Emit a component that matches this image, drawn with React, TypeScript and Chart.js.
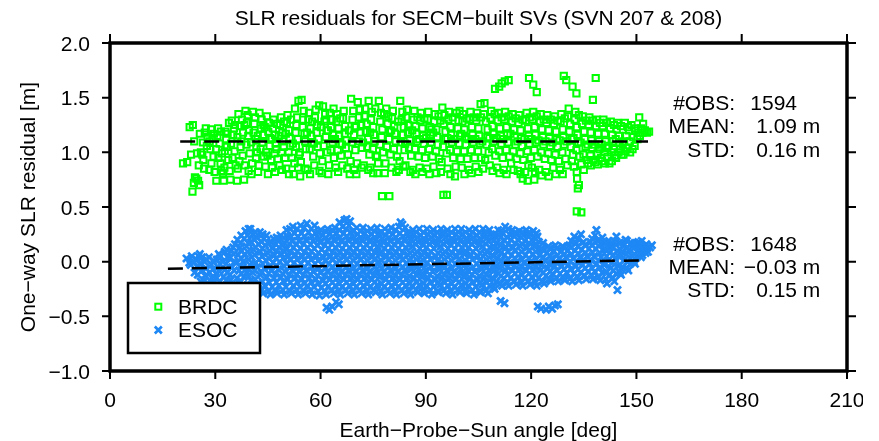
import React, { useEffect, useRef } from 'react';
import { Chart, registerables } from 'chart.js';

Chart.register(...registerables);

const chartTitle = 'SLR residuals for SECM\u2212built SVs (SVN 207 & 208)';
const xAxisTitle = 'Earth\u2212Probe\u2212Sun angle [deg]';
const yAxisTitle = 'One\u2212way SLR residual [m]';
const xTickValues = [0, 30, 60, 90, 120, 150, 180, 210];
const yTickValues = [-1, -0.5, 0, 0.5, 1, 1.5, 2];
const seriesNames = ['BRDC', 'ESOC'];
const statLabels = ['#OBS:', 'MEAN:', 'STD:'];
const brdcStats = ['1594', '1.09', '0.16'];
const esocStats = ['1648', '\u22120.03', '0.15'];
const statUnits = ['', ' m', ' m'];
const brdcMeanLine = [[20, 1.1], [153.3, 1.1]];
const esocMeanLine = [[16.5, -0.065], [151.5, 0.012]];

const brdcPointsA = [
  [20.8,0.9],[22.0,0.91],
  [22.7,1.23],[23.6,1.25],[23.1,0.98],[23.5,0.64],[23.9,0.72],[24.2,0.77],
  [24.8,0.99],[25.1,0.74],[25.4,0.7],[25.9,1.0],[25.6,1.17],[24.6,0.76],
  [26.3,0.98],[27.0,1.18],[27.3,1.22],[26.8,0.85],[27.6,1.06],[26.5,1.09],
  [28.3,0.84],[28.8,1.21],[29.2,1.13],[29.5,0.96],[28.6,1.03],[29.8,0.82],
  [30.3,0.74],[30.8,1.22],[31.2,1.08],[31.5,0.9],[31.9,0.99],[30.6,1.15],[31.7,0.83],
  [32.4,0.74],[32.9,1.19],[33.3,1.05],[33.7,0.93],[32.6,0.86],[33.9,1.27],[33.1,1.12],
  [34.3,0.75],[34.7,1.29],[35.1,1.16],[35.5,1.01],[35.8,0.88],[34.9,0.95],[35.3,1.22],
  [36.2,0.74],[36.6,1.35],[37.0,1.24],[37.4,1.1],[37.8,0.97],[36.4,0.85],[37.2,1.05],[37.6,1.3],
  [38.2,0.75],[38.6,1.38],[39.0,1.27],[39.4,1.15],[39.8,0.99],[38.4,0.88],[39.2,1.34],[39.6,1.2],
  [40.3,0.8],[40.7,1.37],[41.1,1.26],[41.5,1.12],[41.9,1.0],[40.5,0.9],[41.3,1.32],[41.7,1.05],
  [42.2,0.82],[42.6,1.36],[43.0,1.22],[43.4,1.09],[43.8,0.96],[42.4,0.88],[43.2,1.3],[43.6,1.16],
  [44.3,0.87],[44.7,1.33],[45.1,1.19],[45.5,1.06],[45.9,0.93],[44.5,1.0],[45.3,1.27],
  [46.2,0.86],[46.6,1.3],[47.0,1.16],[47.4,1.03],[47.8,0.94],[46.4,1.22],[47.2,1.08],
  [48.3,0.88],[48.7,1.32],[49.1,1.18],[49.5,1.05],[49.9,0.95],[48.5,1.25],[49.3,1.1],
  [50.2,0.85],[50.6,1.34],[51.0,1.2],[51.4,1.06],[51.8,0.95],[50.4,1.27],[51.2,1.13],
  [52.3,0.8],[52.7,1.4],[53.1,1.25],[53.5,1.12],[53.9,0.98],[52.5,0.9],[53.3,1.32],[53.7,1.47],[53.0,1.05],
  [54.2,0.78],[54.6,1.48],[55.0,1.3],[55.4,1.17],[55.8,1.03],[54.4,0.91],[55.2,1.38],[55.6,1.1],
  [56.3,0.84],[56.7,1.36],[57.1,1.22],[57.5,1.09],[57.9,0.96],[56.5,1.3],[57.3,1.15],
  [58.2,0.88],[58.6,1.39],[59.0,1.25],[59.4,1.12],[59.8,0.99],[58.4,1.32],[59.2,1.05],[59.6,1.43],
  [60.3,0.81],[60.7,1.42],[61.1,1.28],[61.5,1.14],[61.9,1.0],[60.5,0.92],[61.3,1.35],[61.7,1.2],
  [62.2,0.8],[62.6,1.36],[63.0,1.23],[63.4,1.09],[63.8,0.95],[62.4,0.88],[63.2,1.3],[63.6,1.16],
  [64.3,0.86],[64.7,1.35],[65.1,1.22],[65.5,1.08],[65.9,0.97],[64.5,1.28],[65.3,1.15],
  [66.2,0.88],[66.6,1.38],[67.0,1.24],[67.4,1.11],[67.8,0.98],[66.4,1.31],[67.2,1.04],
  [68.3,0.8],[68.7,1.49],[69.1,1.3],[69.5,1.16],[69.9,1.02],[68.5,0.92],[69.3,1.38],[69.7,1.23],
  [70.2,0.8],[70.6,1.46],[71.0,1.32],[71.4,1.18],[71.8,1.04],[70.4,0.9],[71.2,1.39],[71.6,1.25],
  [72.3,0.88],[72.7,1.4],[73.1,1.26],[73.5,1.12],[73.9,0.98],[72.5,1.33],[73.3,1.05],[73.7,1.47],
  [74.2,0.86],[74.6,1.37],[75.0,1.23],[75.4,1.1],[75.8,0.96],[74.4,1.3],[75.2,1.16],
  [76.2,0.81],[76.6,1.47],[77.0,1.28],[77.4,1.14],[77.8,1.0],[76.4,0.9],[77.2,1.36],[77.5,0.6],
  [78.3,0.81],[78.7,1.4],[79.1,1.26],[79.5,1.12],[79.9,0.98],[78.5,0.9],[79.3,1.33],[79.6,0.6],
  [80.2,0.86],[80.6,1.38],[81.0,1.24],[81.4,1.1],[81.8,0.96],[80.4,1.31],[81.2,1.17],
  [82.3,0.84],[82.7,1.47],[83.1,1.3],[83.5,1.16],[83.9,1.02],[82.5,0.92],[83.3,1.37],[83.7,1.23],
  [84.2,0.88],[84.6,1.39],[85.0,1.25],[85.4,1.11],[85.8,0.97],[84.4,1.32],[85.2,1.04],
  [86.3,0.84],[86.7,1.38],[87.1,1.24],[87.5,1.1],[87.9,0.96],[86.5,1.3],[87.3,1.17],
  [88.2,0.86],[88.6,1.36],[89.0,1.22],[89.4,1.08],[89.8,0.95],[88.4,1.29],[89.2,1.15],
  [90.3,0.85],[90.7,1.37],[91.1,1.23],[91.5,1.09],[91.9,0.96],[90.5,1.3],[91.3,1.16],
  [92.2,0.87],[92.6,1.35],[93.0,1.21],[93.4,1.07],[93.8,0.94],[92.4,1.28],[93.2,1.14],
  [94.3,0.82],[94.7,1.41],[95.1,1.26],[95.5,1.12],[95.9,0.99],[94.5,0.91],[95.3,1.34],[95.0,0.61],[96.0,0.61],
  [96.2,0.85],[96.6,1.37],[97.0,1.23],[97.4,1.09],[97.8,0.95],[96.4,1.3],[97.2,1.16],
  [98.3,0.78],[98.7,1.36],[99.1,1.22],[99.5,1.08],[99.9,0.94],[98.5,0.87],[99.3,1.29],[99.7,1.15],
  [100.2,0.86],[100.6,1.35],[101.0,1.21],[101.4,1.07],[101.8,0.94],[100.4,1.28],[101.2,1.14],
  [102.3,0.84],[102.7,1.37],[103.1,1.23],[103.5,1.09],[103.9,0.95],[102.5,1.3],[103.3,1.16],
  [104.2,0.87],[104.6,1.36],[105.0,1.22],[105.4,1.08],[105.8,0.95],[104.4,1.29],[105.2,1.15],[105.6,1.44],
  [106.3,0.85],[106.7,1.45],[107.1,1.28],[107.5,1.14],[107.9,1.0],[106.5,1.35],[107.3,1.07],
  [108.2,0.88],[108.6,1.38],[109.0,1.24],[109.4,1.1],[109.8,0.97],[108.4,1.31],[109.2,1.17],[109.7,1.58],
  [110.3,0.86],[110.7,1.36],[111.1,1.22],[111.5,1.08],[111.9,0.95],[110.5,1.29],[111.3,1.15],[110.9,1.6],[111.6,1.63],
  [112.2,0.84],[112.6,1.37],[113.0,1.23],[113.4,1.09],[113.8,0.96],[112.4,1.3],[113.2,1.16],[112.5,1.65],[113.6,1.66],
  [114.3,0.9],[114.7,1.35],[115.1,1.21],[115.5,1.07],[115.9,0.94],[114.5,1.28],[115.3,1.14],
  [116.2,0.83],[116.6,1.34],[117.0,1.2],[117.4,1.06],[117.8,0.93],[116.4,1.27],[117.2,1.13],[117.6,0.76],
  [118.3,0.82],[118.7,1.36],[119.1,1.22],[119.5,1.08],[119.9,0.95],[118.5,1.29],[119.3,1.15],[119.4,1.68],[119.0,0.74],
  [120.2,0.86],[120.6,1.37],[121.0,1.23],[121.4,1.09],[121.8,0.96],[120.4,1.3],[121.2,1.16],[120.6,1.62],[121.6,1.55],[120.9,0.75],
  [122.3,0.84],[122.7,1.35],[123.1,1.21],[123.5,1.07],[123.9,0.94],[122.5,1.28],[123.3,1.14],
  [124.2,0.82],[124.6,1.34],[125.0,1.2],[125.4,1.06],[125.8,0.93],[124.4,1.27],[125.2,1.13],
  [126.3,0.86],[126.7,1.33],[127.1,1.19],[127.5,1.05],[127.9,0.92],[126.5,1.26],[127.3,1.12],
  [128.2,0.84],[128.6,1.35],[129.0,1.21],[129.4,1.07],[129.8,0.94],[128.4,1.28],[129.2,1.14],[129.3,1.7],[130.0,1.66],
  [130.3,0.88],[130.7,1.4],[131.1,1.26],[131.5,1.12],[131.9,0.98],[130.5,1.33],[131.3,1.05],[131.8,1.6],
  [132.2,0.87],[132.6,1.37],[133.0,1.23],[133.4,1.09],[133.8,0.96],[132.4,1.3],[133.2,1.16],[132.9,1.54],[133.1,0.76],[133.6,0.7],[133.3,0.67],[133.0,0.46],[134.3,0.45],
  [134.3,0.89],[134.7,1.33],[135.1,1.19],[135.5,1.05],[135.9,0.93],[134.5,1.26],[135.3,1.12],
  [136.2,0.9],[136.6,1.32],[137.0,1.18],[137.4,1.04],[137.8,0.93],[136.4,1.25],[137.2,1.11],[137.6,1.48],[138.4,1.68],
  [138.3,0.91],[138.7,1.3],[139.1,1.17],[139.5,1.03],[139.9,0.95],[138.5,1.24],[139.3,1.1],
  [140.2,0.92],[140.6,1.3],[141.0,1.17],[141.4,1.04],[141.8,0.96],[140.4,1.24],[141.2,1.1],
  [142.3,0.9],[142.7,1.28],[143.1,1.16],[143.5,1.03],[143.9,0.97],[142.5,1.22],[143.3,1.1],
  [144.2,0.95],[144.6,1.27],[145.0,1.15],[145.4,1.03],[145.8,0.98],[144.4,1.21],[145.2,1.09],
  [146.3,0.98],[146.7,1.27],[147.1,1.15],[147.5,1.04],[147.9,1.2],[146.5,1.1],
  [148.2,1.0],[148.6,1.25],[149.1,1.14],[149.5,1.06],[149.8,1.2],
  [150.3,1.12],[150.8,1.32],[151.3,1.22],[151.7,1.18],
  [152.4,1.2],[153.0,1.18],[153.6,1.19],
];

const brdcPointsB = [
  [24.0,1.1],[25.3,0.88],[26.6,0.93],[27.8,1.14],
  [28.9,0.9],[29.6,1.17],[28.4,1.1],[30.9,0.95],[31.6,1.19],[30.2,1.03],
  [32.7,1.01],[33.5,1.17],[32.2,0.81],[34.5,1.08],[35.6,1.25],[34.1,0.83],
  [36.9,0.92],[37.9,1.18],[36.3,1.14],[38.9,1.07],[39.5,0.83],[38.3,1.25],
  [40.9,1.18],[41.6,0.95],[40.2,1.09],[42.9,1.03],[43.7,1.25],[42.1,1.15],
  [44.9,0.97],[45.6,1.13],[44.1,1.23],[45.0,0.8],[46.9,0.99],[47.6,1.26],[46.1,1.12],[47.0,0.82],
  [48.9,1.0],[49.6,1.28],[48.1,1.15],[49.0,0.84],[50.9,1.0],[51.6,1.3],[50.1,1.17],[51.0,0.8],
  [52.9,1.18],[53.6,0.86],[52.1,1.08],[54.9,1.23],[55.7,0.85],[54.1,1.0],
  [56.9,1.03],[57.6,1.28],[56.1,1.18],[57.0,0.8],[58.9,1.18],[59.7,0.83],[58.1,1.08],
  [60.9,1.06],[61.6,1.3],[60.1,1.23],[62.9,1.02],[63.7,1.4],[62.1,1.2],
  [64.9,1.02],[65.6,1.31],[64.1,1.12],[65.0,0.82],[66.9,1.17],[67.6,0.85],[66.1,1.07],
  [68.9,1.09],[69.6,0.84],[68.1,1.2],[70.9,1.1],[71.7,0.86],[70.1,1.24],
  [72.9,1.19],[73.6,0.84],[72.1,1.09],[74.9,1.03],[75.6,1.4],[74.1,1.18],[75.0,0.81],
  [76.9,1.07],[77.6,1.21],[76.1,0.97],[78.9,1.05],[79.7,1.19],[78.1,1.35],
  [80.9,1.03],[81.6,0.82],[80.1,1.2],[82.9,1.09],[83.6,0.87],[82.1,1.28],
  [84.9,1.18],[85.6,0.82],[84.1,1.08],[86.9,1.03],[87.6,1.32],[86.1,1.2],[87.0,0.8],
  [88.9,1.02],[89.6,1.31],[88.1,1.12],[89.0,0.82],[90.9,1.03],[91.6,1.21],[90.1,1.13],[91.0,0.8],
  [92.9,1.01],[93.6,1.33],[92.1,1.18],[93.0,0.81],[94.9,1.05],[95.6,1.19],[94.1,1.29],
  [96.9,1.02],[97.6,1.32],[96.1,1.13],[97.0,0.8],[98.9,1.01],[99.6,1.38],[98.1,1.12],
  [100.9,1.01],[101.6,1.31],[100.1,1.17],[101.0,0.8],[102.9,1.02],[103.6,1.32],[102.1,1.12],[103.0,0.81],
  [104.9,1.01],[105.7,1.32],[104.1,1.12],[105.0,0.82],[106.9,0.93],[107.6,1.21],[106.1,1.1],
  [108.9,1.03],[109.6,1.35],[108.1,1.13],[109.0,0.83],[110.9,1.01],[111.6,1.32],[110.1,1.13],[111.0,0.81],
  [112.9,1.02],[113.6,1.33],[112.1,1.12],[113.0,0.8],[114.9,1.01],[115.6,1.31],[114.1,1.17],[115.0,0.84],
  [116.9,0.99],[117.6,1.3],[116.1,1.1],[117.0,0.8],[118.9,1.01],[119.6,1.32],[118.1,1.12],[119.2,0.88],
  [120.9,1.02],[121.6,1.33],[120.1,1.12],[121.1,0.82],[122.9,1.0],[123.6,1.3],[122.1,1.11],[123.0,0.79],
  [124.9,0.99],[125.6,1.3],[124.1,1.1],[125.0,0.78],[126.9,0.98],[127.6,1.29],[126.1,1.09],[127.0,0.8],
  [128.9,1.0],[129.6,1.31],[128.1,1.11],[129.0,0.8],[130.9,1.19],[131.6,0.92],[130.1,1.1],
  [132.9,1.02],[133.6,1.34],[132.1,1.13],[133.0,0.82],[134.9,0.98],[135.6,1.29],[134.1,1.09],[135.0,0.84],
  [136.9,0.97],[137.6,1.29],[136.1,1.07],[137.0,0.88],[138.9,0.99],[139.6,1.27],[138.1,1.07],[139.0,0.89],
  [140.9,1.0],[141.6,1.27],[140.1,1.07],[141.0,0.9],[142.9,1.0],[143.6,1.25],[142.1,1.06],[143.0,0.92],
  [144.9,1.0],[145.6,1.24],[144.1,1.12],[146.9,1.01],[147.6,1.23],[146.1,1.07],
  [148.9,1.03],[149.6,1.22],[148.1,1.1],[150.5,1.18],[151.0,1.15],[151.9,1.26],
];

const esocPointsA = [
  [21.8,0.03],[22.6,-0.01],[23.3,0.05],
  [24.1,-0.1],[24.6,0.02],[25.2,0.05],[24.9,-0.05],
  [25.8,-0.18],[26.3,-0.08],[26.9,0.0],[26.2,0.04],[27.1,-0.13],
  [27.8,-0.2],[28.4,-0.1],[28.9,-0.03],[28.2,0.04],[29.0,-0.15],
  [29.7,-0.19],[30.2,-0.11],[30.8,-0.05],[30.4,0.02],[31.0,0.07],[30.1,-0.15],
  [31.8,-0.21],[32.3,-0.14],[32.9,-0.07],[32.1,0.0],[32.7,0.09],[33.1,-0.02],
  [33.7,-0.2],[34.2,-0.12],[34.8,-0.05],[34.1,0.03],[34.6,0.1],[35.1,0.13],[34.4,-0.17],
  [35.7,-0.23],[36.2,-0.15],[36.8,-0.08],[36.0,-0.01],[36.5,0.06],[37.0,0.13],[36.3,0.2],[36.9,-0.19],
  [37.6,-0.22],[38.1,-0.14],[38.7,-0.07],[37.9,0.0],[38.4,0.07],[38.9,0.14],[38.2,0.21],[38.6,0.28],[39.0,-0.1],
  [39.6,-0.25],[40.1,-0.17],[40.7,-0.1],[39.9,-0.03],[40.4,0.04],[40.9,0.11],[40.2,0.18],[40.6,0.25],[40.0,0.3],
  [41.7,-0.27],[42.2,-0.2],[42.8,-0.12],[41.9,-0.05],[42.5,0.02],[42.9,0.09],[42.3,0.16],[41.8,0.22],[42.7,0.27],
  [43.6,-0.29],[44.1,-0.22],[44.7,-0.14],[43.9,-0.06],[44.4,0.01],[44.9,0.08],[44.2,0.15],[43.8,0.21],[44.6,0.24],
  [45.7,-0.3],[46.2,-0.23],[46.8,-0.15],[45.9,-0.08],[46.5,-0.01],[46.9,0.06],[46.3,0.12],[45.8,0.18],[46.6,0.21],
  [47.6,-0.29],[48.1,-0.22],[48.7,-0.14],[47.9,-0.07],[48.4,0.0],[48.9,0.07],[48.2,0.13],[47.8,0.19],[48.6,0.24],
  [49.6,-0.3],[50.1,-0.23],[50.7,-0.16],[49.9,-0.09],[50.4,-0.02],[50.9,0.05],[50.2,0.11],[49.8,0.17],[50.6,0.23],[50.3,0.29],
  [51.7,-0.29],[52.2,-0.22],[52.8,-0.15],[51.9,-0.08],[52.5,-0.01],[52.9,0.06],[52.3,0.13],[51.8,0.19],[52.6,0.26],[52.1,0.32],
  [53.6,-0.3],[54.1,-0.23],[54.7,-0.16],[53.9,-0.09],[54.4,-0.02],[54.9,0.05],[54.2,0.12],[53.8,0.19],[54.6,0.26],[54.3,0.33],
  [55.7,-0.29],[56.2,-0.22],[56.8,-0.15],[55.9,-0.08],[56.5,-0.01],[56.9,0.06],[56.3,0.13],[55.8,0.2],[56.6,0.27],[56.1,0.35],
  [57.6,-0.3],[58.1,-0.23],[58.7,-0.16],[57.9,-0.09],[58.4,-0.02],[58.9,0.05],[58.2,0.12],[57.8,0.19],[58.6,0.26],[58.3,0.33],
  [59.7,-0.31],[60.2,-0.24],[60.8,-0.17],[59.9,-0.1],[60.5,-0.03],[60.9,0.04],[60.3,0.11],[59.8,0.18],[60.6,0.24],[60.1,0.29],
  [61.6,-0.3],[62.1,-0.23],[62.7,-0.16],[61.9,-0.09],[62.4,-0.02],[62.9,0.05],[62.2,0.12],[61.8,0.19],[62.6,0.25],[62.0,0.3],[61.7,-0.42],[62.5,-0.44],[63.3,-0.41],
  [63.7,-0.29],[64.2,-0.22],[64.8,-0.15],[63.9,-0.08],[64.5,-0.01],[64.9,0.06],[64.3,0.13],[63.8,0.2],[64.6,0.26],[64.1,0.31],[64.4,-0.37],[65.2,-0.39],
  [65.6,-0.3],[66.1,-0.23],[66.7,-0.16],[65.9,-0.09],[66.4,-0.02],[66.9,0.05],[66.2,0.12],[65.8,0.19],[66.6,0.26],[66.3,0.32],[66.8,0.38],
  [67.7,-0.29],[68.2,-0.22],[68.8,-0.15],[67.9,-0.08],[68.5,-0.01],[68.9,0.06],[68.3,0.13],[67.8,0.2],[68.6,0.27],[68.1,0.33],[68.4,0.37],
  [69.6,-0.3],[70.1,-0.23],[70.7,-0.16],[69.9,-0.09],[70.4,-0.02],[70.9,0.05],[70.2,0.12],[69.8,0.19],[70.6,0.25],[70.3,0.31],
  [71.7,-0.29],[72.2,-0.22],[72.8,-0.15],[71.9,-0.08],[72.5,-0.01],[72.9,0.06],[72.3,0.13],[71.8,0.2],[72.6,0.26],[72.1,0.31],
  [73.6,-0.3],[74.1,-0.23],[74.7,-0.16],[73.9,-0.09],[74.4,-0.02],[74.9,0.05],[74.2,0.12],[73.8,0.19],[74.6,0.25],[74.3,0.3],
  [75.7,-0.28],[76.2,-0.21],[76.8,-0.14],[75.9,-0.07],[76.5,0.0],[76.9,0.07],[76.3,0.14],[75.8,0.2],[76.6,0.26],[76.1,0.31],
  [77.6,-0.3],[78.1,-0.23],[78.7,-0.16],[77.9,-0.09],[78.4,-0.02],[78.9,0.05],[78.2,0.12],[77.8,0.18],[78.6,0.24],[78.3,0.3],
  [79.7,-0.29],[80.2,-0.22],[80.8,-0.15],[79.9,-0.08],[80.5,-0.01],[80.9,0.06],[80.3,0.13],[79.8,0.19],[80.6,0.25],[80.1,0.31],
  [81.6,-0.3],[82.1,-0.23],[82.7,-0.16],[81.9,-0.09],[82.4,-0.02],[82.9,0.05],[82.2,0.12],[81.8,0.19],[82.6,0.26],[82.3,0.32],[82.8,0.36],
  [83.7,-0.29],[84.2,-0.22],[84.8,-0.15],[83.9,-0.08],[84.5,-0.01],[84.9,0.06],[84.3,0.13],[83.8,0.2],[84.6,0.26],[84.1,0.31],
  [85.6,-0.3],[86.1,-0.22],[86.7,-0.15],[85.9,-0.07],[86.4,0.0],[86.9,0.07],[86.2,0.14],[85.8,0.2],[86.6,0.25],[86.3,0.29],
  [87.7,-0.28],[88.2,-0.21],[88.8,-0.14],[87.9,-0.07],[88.5,0.0],[88.9,0.06],[88.3,0.12],[87.8,0.18],[88.6,0.24],[88.1,0.3],
  [89.6,-0.29],[90.1,-0.22],[90.7,-0.15],[89.9,-0.08],[90.4,-0.01],[90.9,0.06],[90.2,0.13],[89.8,0.19],[90.6,0.25],[90.3,0.3],
  [91.7,-0.3],[92.2,-0.23],[92.8,-0.16],[91.9,-0.09],[92.5,-0.02],[92.9,0.05],[92.3,0.12],[91.8,0.18],[92.6,0.24],[92.1,0.29],
  [93.6,-0.28],[94.1,-0.21],[94.7,-0.14],[93.9,-0.07],[94.4,0.0],[94.9,0.07],[94.2,0.14],[93.8,0.2],[94.6,0.26],[94.3,0.3],
  [95.7,-0.29],[96.2,-0.22],[96.8,-0.15],[95.9,-0.08],[96.5,-0.01],[96.9,0.06],[96.3,0.12],[95.8,0.18],[96.6,0.24],[96.1,0.29],
  [97.6,-0.3],[98.1,-0.23],[98.7,-0.16],[97.9,-0.09],[98.4,-0.02],[98.9,0.05],[98.2,0.12],[97.8,0.19],[98.6,0.25],[98.3,0.3],
  [99.7,-0.28],[100.2,-0.21],[100.8,-0.14],[99.9,-0.07],[100.5,0.0],[100.9,0.07],[100.3,0.13],[99.8,0.19],[100.6,0.25],[100.1,0.3],
  [101.6,-0.29],[102.1,-0.22],[102.7,-0.15],[101.9,-0.08],[102.4,-0.01],[102.9,0.06],[102.2,0.13],[101.8,0.19],[102.6,0.24],[102.3,0.29],
  [103.7,-0.3],[104.2,-0.23],[104.8,-0.16],[103.9,-0.09],[104.5,-0.02],[104.9,0.05],[104.3,0.12],[103.8,0.18],[104.6,0.24],[104.1,0.3],
  [105.6,-0.28],[106.1,-0.21],[106.7,-0.14],[105.9,-0.07],[106.4,0.0],[106.9,0.07],[106.2,0.14],[105.8,0.2],[106.6,0.26],[106.3,0.3],
  [107.7,-0.29],[108.2,-0.22],[108.8,-0.15],[107.9,-0.08],[108.5,-0.01],[108.9,0.06],[108.3,0.13],[107.8,0.19],[108.6,0.25],[108.1,0.29],
  [109.6,-0.25],[110.1,-0.18],[110.7,-0.11],[109.9,-0.04],[110.4,0.03],[110.9,0.1],[110.2,0.17],[109.8,0.23],[110.6,0.29],[111.3,-0.36],
  [111.7,-0.22],[112.2,-0.15],[112.8,-0.08],[111.9,-0.01],[112.5,0.06],[112.9,0.13],[112.3,0.2],[111.8,0.26],[112.6,0.32],[112.4,-0.38],
  [113.6,-0.22],[114.1,-0.15],[114.7,-0.08],[113.9,-0.01],[114.4,0.06],[114.9,0.13],[114.2,0.2],[113.8,0.25],[114.6,0.29],
  [115.7,-0.21],[116.2,-0.14],[116.8,-0.07],[115.9,0.0],[116.5,0.07],[116.9,0.14],[116.3,0.2],[115.8,0.25],[116.6,0.28],
  [117.6,-0.22],[118.1,-0.15],[118.7,-0.08],[117.9,-0.01],[118.4,0.06],[118.9,0.13],[118.2,0.19],[117.8,0.24],[118.6,0.29],
  [119.7,-0.21],[120.2,-0.14],[120.8,-0.07],[119.9,0.0],[120.5,0.07],[120.9,0.14],[120.3,0.2],[119.8,0.25],[120.6,0.28],
  [121.6,-0.22],[122.1,-0.15],[122.7,-0.08],[121.9,-0.01],[122.4,0.06],[122.9,0.12],[122.2,0.18],[121.8,0.23],[121.9,-0.41],[122.8,-0.43],
  [123.7,-0.2],[124.2,-0.13],[124.8,-0.06],[123.9,0.01],[124.5,0.08],[124.9,0.14],[124.3,-0.44],[125.0,-0.41],
  [125.6,-0.18],[126.1,-0.11],[126.7,-0.04],[125.9,0.03],[126.4,0.1],[126.9,0.15],[126.0,-0.43],[126.8,-0.4],
  [127.7,-0.18],[128.2,-0.11],[128.8,-0.04],[127.9,0.03],[128.5,0.09],[128.9,0.14],[127.6,-0.39],
  [129.6,-0.17],[130.1,-0.1],[130.7,-0.03],[129.9,0.04],[130.4,0.1],[130.9,0.15],
  [131.7,-0.18],[132.2,-0.11],[132.8,-0.04],[131.9,0.03],[132.5,0.1],[132.9,0.17],[132.3,0.23],
  [133.6,-0.17],[134.1,-0.1],[134.7,-0.03],[133.9,0.04],[134.4,0.11],[134.9,0.18],[134.2,0.25],
  [135.7,-0.16],[136.2,-0.09],[136.8,-0.02],[135.9,0.05],[136.5,0.12],[136.9,0.18],
  [137.6,-0.16],[138.1,-0.09],[138.7,-0.02],[137.9,0.05],[138.4,0.12],[138.9,0.19],[138.2,0.24],[138.6,0.29],
  [139.7,-0.17],[140.2,-0.1],[140.8,-0.03],[139.9,0.04],[140.5,0.11],[140.9,0.17],[140.3,0.22],
  [141.6,-0.2],[142.1,-0.13],[142.7,-0.06],[141.9,0.01],[142.4,0.08],[142.9,0.14],[142.2,0.19],
  [143.7,-0.18],[144.2,-0.11],[144.8,-0.04],[143.9,0.03],[144.5,0.1],[144.9,0.17],[144.3,0.23],[144.6,-0.26],
  [145.6,-0.12],[146.1,-0.05],[146.7,0.02],[145.9,0.09],[146.4,0.15],[146.9,0.2],
  [147.7,-0.08],[148.2,-0.02],[148.8,0.05],[147.9,0.11],[148.5,0.17],
  [149.6,-0.02],[150.1,0.04],[150.7,0.1],[149.9,0.15],[150.5,0.18],
  [151.7,0.06],[152.2,0.11],[152.8,0.16],[151.9,0.14],
  [153.3,0.09],[153.9,0.13],[154.4,0.15],
];

const esocPointsB = [
  [23.0,-0.03],[23.8,0.0],[25.5,-0.02],[25.0,-0.12],[25.6,0.07],
  [27.4,-0.06],[27.0,-0.17],[27.5,0.02],[29.3,-0.07],[29.4,0.01],[29.1,-0.19],
  [31.3,-0.02],[31.4,-0.18],[31.2,-0.09],[31.5,0.05],[33.3,-0.17],[33.4,-0.1],[33.5,0.04],[33.2,0.11],
  [35.3,-0.21],[35.4,-0.08],[35.5,0.0],[35.2,0.07],[35.6,0.16],
  [37.3,-0.18],[37.4,-0.11],[37.2,-0.04],[37.5,0.03],[37.3,0.1],[37.4,0.24],[37.2,0.17],
  [39.3,-0.21],[39.4,-0.13],[39.2,-0.06],[39.5,0.02],[39.3,0.09],[39.4,0.17],[39.2,0.24],[39.5,0.3],
  [41.3,-0.24],[41.4,-0.16],[41.2,-0.08],[41.5,-0.01],[41.3,0.06],[41.4,0.13],[41.2,0.2],[41.5,0.27],
  [43.3,-0.26],[43.4,-0.18],[43.2,-0.1],[43.5,-0.02],[43.3,0.05],[43.4,0.12],[43.2,0.18],[43.5,0.25],
  [45.3,-0.27],[45.4,-0.19],[45.2,-0.11],[45.5,-0.04],[45.3,0.03],[45.4,0.1],[45.2,0.17],
  [47.3,-0.27],[47.4,-0.19],[47.2,-0.11],[47.5,-0.04],[47.3,0.03],[47.4,0.1],[47.2,0.16],[47.5,0.22],
  [49.3,-0.26],[49.4,-0.18],[49.2,-0.11],[49.5,-0.04],[49.3,0.03],[49.4,0.1],[49.2,0.16],[49.5,0.22],
  [51.3,-0.27],[51.4,-0.19],[51.2,-0.12],[51.5,-0.05],[51.3,0.02],[51.4,0.09],[51.2,0.16],[51.5,0.23],[51.3,0.3],
  [53.3,-0.26],[53.4,-0.19],[53.2,-0.12],[53.5,-0.05],[53.3,0.02],[53.4,0.09],[53.2,0.16],[53.5,0.23],[53.3,0.3],
  [55.3,-0.27],[55.4,-0.2],[55.2,-0.12],[55.5,-0.05],[55.3,0.02],[55.4,0.09],[55.2,0.16],[55.5,0.23],[55.3,0.31],
  [57.3,-0.26],[57.4,-0.19],[57.2,-0.12],[57.5,-0.05],[57.3,0.02],[57.4,0.09],[57.2,0.16],[57.5,0.23],[57.3,0.3],
  [59.3,-0.27],[59.4,-0.2],[59.2,-0.13],[59.5,-0.06],[59.3,0.01],[59.4,0.08],[59.2,0.15],[59.5,0.21],[59.3,0.27],
  [61.3,-0.27],[61.4,-0.2],[61.2,-0.13],[61.5,-0.06],[61.3,0.01],[61.4,0.08],[61.2,0.15],[61.5,0.22],[61.3,0.28],
  [63.3,-0.26],[63.4,-0.19],[63.2,-0.12],[63.5,-0.05],[63.3,0.02],[63.4,0.09],[63.2,0.16],[63.5,0.23],[63.3,0.29],
  [65.3,-0.27],[65.4,-0.2],[65.2,-0.13],[65.5,-0.06],[65.3,0.01],[65.4,0.08],[65.2,0.15],[65.5,0.22],[65.3,0.29],[65.4,0.36],
  [67.3,-0.26],[67.4,-0.19],[67.2,-0.12],[67.5,-0.05],[67.3,0.02],[67.4,0.09],[67.2,0.16],[67.5,0.23],[67.3,0.3],[67.4,0.39],
  [69.3,-0.27],[69.4,-0.2],[69.2,-0.13],[69.5,-0.06],[69.3,0.01],[69.4,0.08],[69.2,0.15],[69.5,0.22],[69.3,0.28],
  [71.3,-0.26],[71.4,-0.19],[71.2,-0.12],[71.5,-0.05],[71.3,0.02],[71.4,0.09],[71.2,0.16],[71.5,0.22],[71.3,0.28],
  [73.3,-0.27],[73.4,-0.2],[73.2,-0.13],[73.5,-0.06],[73.3,0.01],[73.4,0.08],[73.2,0.15],[73.5,0.22],[73.3,0.28],
  [75.3,-0.26],[75.4,-0.19],[75.2,-0.12],[75.5,-0.05],[75.3,0.02],[75.4,0.09],[75.2,0.16],[75.5,0.22],[75.3,0.28],
  [77.3,-0.27],[77.4,-0.2],[77.2,-0.13],[77.5,-0.06],[77.3,0.01],[77.4,0.08],[77.2,0.15],[77.5,0.21],[77.3,0.27],
  [79.3,-0.26],[79.4,-0.19],[79.2,-0.12],[79.5,-0.05],[79.3,0.02],[79.4,0.09],[79.2,0.16],[79.5,0.22],[79.3,0.28],
  [81.3,-0.27],[81.4,-0.2],[81.2,-0.13],[81.5,-0.06],[81.3,0.01],[81.4,0.08],[81.2,0.15],[81.5,0.22],[81.3,0.29],
  [83.3,-0.26],[83.4,-0.19],[83.2,-0.12],[83.5,-0.05],[83.3,0.02],[83.4,0.09],[83.2,0.16],[83.5,0.23],[83.3,0.34],
  [85.3,-0.27],[85.4,-0.2],[85.2,-0.13],[85.5,-0.06],[85.3,0.01],[85.4,0.08],[85.2,0.15],[85.5,0.22],[85.3,0.27],
  [87.3,-0.26],[87.4,-0.19],[87.2,-0.12],[87.5,-0.05],[87.3,0.02],[87.4,0.09],[87.2,0.16],[87.5,0.22],[87.3,0.27],
  [89.3,-0.27],[89.4,-0.2],[89.2,-0.13],[89.5,-0.06],[89.3,0.01],[89.4,0.08],[89.2,0.15],[89.5,0.21],[89.3,0.27],
  [91.3,-0.26],[91.4,-0.19],[91.2,-0.12],[91.5,-0.05],[91.3,0.02],[91.4,0.09],[91.2,0.16],[91.5,0.22],[91.3,0.27],
  [93.3,-0.27],[93.4,-0.2],[93.2,-0.13],[93.5,-0.06],[93.3,0.01],[93.4,0.08],[93.2,0.15],[93.5,0.21],[93.3,0.27],
  [95.3,-0.26],[95.4,-0.19],[95.2,-0.12],[95.5,-0.05],[95.3,0.02],[95.4,0.09],[95.2,0.16],[95.5,0.22],[95.3,0.27],
  [97.3,-0.27],[97.4,-0.2],[97.2,-0.13],[97.5,-0.06],[97.3,0.01],[97.4,0.08],[97.2,0.15],[97.5,0.21],[97.3,0.27],
  [99.3,-0.26],[99.4,-0.19],[99.2,-0.12],[99.5,-0.05],[99.3,0.02],[99.4,0.09],[99.2,0.16],[99.5,0.22],[99.3,0.27],
  [101.3,-0.27],[101.4,-0.2],[101.2,-0.13],[101.5,-0.06],[101.3,0.01],[101.4,0.08],[101.2,0.15],[101.5,0.21],[101.3,0.27],
  [103.3,-0.26],[103.4,-0.19],[103.2,-0.12],[103.5,-0.05],[103.3,0.02],[103.4,0.09],[103.2,0.16],[103.5,0.22],[103.3,0.27],
  [105.3,-0.27],[105.4,-0.2],[105.2,-0.13],[105.5,-0.06],[105.3,0.01],[105.4,0.08],[105.2,0.15],[105.5,0.21],[105.3,0.27],
  [107.3,-0.26],[107.4,-0.19],[107.2,-0.12],[107.5,-0.05],[107.3,0.02],[107.4,0.09],[107.2,0.16],[107.5,0.22],[107.3,0.27],
  [109.3,-0.23],[109.4,-0.16],[109.2,-0.09],[109.5,-0.02],[109.3,0.05],[109.4,0.12],[109.2,0.19],[109.5,0.25],
  [111.3,-0.2],[111.4,-0.13],[111.2,-0.06],[111.5,0.01],[111.3,0.08],[111.4,0.15],[111.2,0.22],[111.5,0.28],
  [113.3,-0.19],[113.4,-0.12],[113.2,-0.05],[113.5,0.02],[113.3,0.09],[113.4,0.16],[113.2,0.22],[113.5,0.3],
  [115.3,-0.18],[115.4,-0.11],[115.2,-0.04],[115.5,0.03],[115.3,0.1],[115.4,0.17],[115.2,0.23],[115.5,0.27],
  [117.3,-0.19],[117.4,-0.12],[117.2,-0.05],[117.5,0.02],[117.3,0.09],[117.4,0.16],[117.2,0.22],[117.5,0.27],
  [119.3,-0.18],[119.4,-0.11],[119.2,-0.04],[119.5,0.03],[119.3,0.1],[119.4,0.17],[119.2,0.23],[119.5,0.27],
  [121.3,-0.19],[121.4,-0.12],[121.2,-0.05],[121.5,0.02],[121.3,0.09],[121.4,0.15],[121.2,0.21],[121.5,0.26],
  [123.3,-0.18],[123.4,-0.1],[123.2,-0.03],[123.5,0.04],[123.3,0.11],[123.4,0.17],
  [125.3,-0.16],[125.4,-0.09],[125.2,-0.02],[125.5,0.05],[125.3,0.12],
  [127.3,-0.15],[127.4,-0.08],[127.2,-0.01],[127.5,0.06],[127.3,0.12],
  [129.3,-0.15],[129.4,-0.07],[129.2,0.0],[129.5,0.07],[129.3,0.13],
  [131.3,-0.15],[131.4,-0.07],[131.2,0.0],[131.5,0.07],[131.3,0.13],[131.4,0.19],
  [133.3,-0.14],[133.4,-0.07],[133.2,0.0],[133.5,0.07],[133.3,0.14],[133.4,0.21],
  [135.3,-0.13],[135.4,-0.06],[135.2,0.01],[135.5,0.08],[135.3,0.15],
  [137.3,-0.13],[137.4,-0.06],[137.2,0.01],[137.5,0.08],[137.3,0.15],[137.4,0.21],
  [139.3,-0.14],[139.4,-0.06],[139.2,0.01],[139.5,0.08],[139.3,0.14],[139.4,0.2],
  [141.3,-0.16],[141.4,-0.09],[141.2,-0.02],[141.5,0.05],[141.3,0.11],[141.4,0.17],
  [143.3,-0.15],[143.4,-0.08],[143.2,-0.01],[143.5,0.06],[143.3,0.13],[143.4,0.19],
  [145.3,-0.1],[145.4,-0.03],[145.2,0.04],[145.5,0.11],[145.3,0.17],
  [147.3,-0.06],[147.4,0.0],[147.2,0.07],[147.5,0.13],[147.3,0.19],
  [149.3,0.0],[149.4,0.07],[149.2,0.12],[149.5,0.17],
  [151.3,0.04],[151.4,0.09],[151.2,0.14],[151.5,0.19],
  [153.0,0.12],[152.6,0.08],
];

const FONT = '"Liberation Sans", Arial, Helvetica, sans-serif';
const GREEN = '#00ff00';
const BLUE = 'rgb(30,136,245)';

const fmtY = (v: number) => (v < 0 ? '\u2212' : '') + Math.abs(v).toFixed(1);
const toXY = (pts: number[][]) => pts.map(([x, y]) => ({ x, y }));

const decorPlugin = {
  id: 'decor',
  afterDraw(chart: any) {
    const ctx = chart.ctx as CanvasRenderingContext2D;
    const { left, right, top, bottom } = chart.chartArea;
    const xs = chart.scales.x;
    const ys = chart.scales.y;
    const cx = (left + right) / 2;
    const cy = (top + bottom) / 2;
    ctx.save();

    // legend box
    ctx.fillStyle = '#fff';
    ctx.fillRect(128, 283, 132, 70);
    ctx.strokeStyle = '#000';
    ctx.lineWidth = 2.5;
    ctx.strokeRect(128, 283, 132, 70);
    ctx.strokeStyle = GREEN;
    ctx.lineWidth = 2;
    ctx.strokeRect(158.3 - 3, 306.7 - 3, 6, 6);
    ctx.strokeStyle = BLUE;
    ctx.lineWidth = 2.7;
    ctx.beginPath();
    ctx.moveTo(158.3 - 3.5, 330 - 3.5); ctx.lineTo(158.3 + 3.5, 330 + 3.5);
    ctx.moveTo(158.3 + 3.5, 330 - 3.5); ctx.lineTo(158.3 - 3.5, 330 + 3.5);
    ctx.stroke();
    ctx.fillStyle = '#000';
    ctx.font = `21px ${FONT}`;
    ctx.textAlign = 'left';
    ctx.textBaseline = 'alphabetic';
    ctx.fillText(seriesNames[0], 178, 314);
    ctx.fillText(seriesNames[1], 178, 337);

    // frame
    ctx.strokeStyle = '#000';
    ctx.lineWidth = 3.5;
    ctx.strokeRect(left, top, right - left, bottom - top);

    // tick marks
    ctx.lineWidth = 2;
    ctx.beginPath();
    xTickValues.forEach((v) => {
      const px = xs.getPixelForValue(v);
      ctx.moveTo(px, bottom); ctx.lineTo(px, bottom + 8);
      ctx.moveTo(px, top); ctx.lineTo(px, top - 9);
    });
    yTickValues.forEach((v) => {
      const py = ys.getPixelForValue(v);
      ctx.moveTo(left, py); ctx.lineTo(left - 8, py);
      ctx.moveTo(right, py); ctx.lineTo(right + 9, py);
    });
    ctx.stroke();

    // tick labels
    ctx.fillStyle = '#000';
    ctx.font = `21px ${FONT}`;
    ctx.save();
    ctx.beginPath();
    ctx.rect(0, 0, 863, 441);
    ctx.clip();
    ctx.textAlign = 'center';
    xTickValues.forEach((v) => ctx.fillText(String(v), xs.getPixelForValue(v), 407));
    ctx.restore();
    ctx.textAlign = 'right';
    yTickValues.forEach((v) => ctx.fillText(fmtY(v), left - 20, ys.getPixelForValue(v) + 7.5));

    // titles
    ctx.textAlign = 'center';
    ctx.fillText(chartTitle, cx, 25);
    ctx.fillText(xAxisTitle, cx, 437);
    ctx.save();
    ctx.translate(35, cy);
    ctx.rotate(-Math.PI / 2);
    ctx.fillText(yAxisTitle, 0, 0);
    ctx.restore();

    // stats
    const drawStats = (vals: string[], baselines: number[]) => {
      vals.forEach((val, i) => {
        ctx.textAlign = 'right';
        ctx.fillText(statLabels[i], 735, baselines[i]);
        ctx.fillText(val, 797, baselines[i]);
        ctx.textAlign = 'left';
        ctx.fillText(statUnits[i], 797, baselines[i]);
      });
    };
    drawStats(brdcStats, [110, 133.3, 156.6]);
    drawStats(esocStats, [250.5, 273.7, 297]);

    ctx.restore();
  },
};

export default function App() {
  const ref = useRef<HTMLCanvasElement | null>(null);

  useEffect(() => {
    if (!ref.current) return;
    const chart = new Chart(ref.current, {
      type: 'scatter',
      data: {
        datasets: [
          {
            type: 'line',
            label: 'BRDC mean',
            data: toXY(brdcMeanLine),
            showLine: true,
            borderColor: '#000',
            borderWidth: 2.5,
            borderDash: [15, 9],
            pointRadius: 0,
            fill: false,
          } as any,
          {
            type: 'line',
            label: 'ESOC mean',
            data: toXY(esocMeanLine),
            showLine: true,
            borderColor: '#000',
            borderWidth: 2.5,
            borderDash: [15, 9],
            pointRadius: 0,
            fill: false,
          } as any,
          {
            label: seriesNames[0],
            data: toXY([...brdcPointsA, ...brdcPointsB]),
            pointStyle: 'rect',
            pointRadius: 4.4,
            borderWidth: 2,
            borderColor: GREEN,
            backgroundColor: 'rgba(0,0,0,0)',
          },
          {
            label: seriesNames[1],
            data: toXY([...esocPointsA, ...esocPointsB]),
            pointStyle: 'crossRot',
            pointRadius: 5,
            borderWidth: 2.7,
            borderColor: BLUE,
            backgroundColor: BLUE,
          },
        ],
      },
      options: {
        animation: false,
        responsive: false,
        devicePixelRatio: 1,
        events: [],
        layout: { padding: { left: 110, right: 32, top: 43, bottom: 70 } },
        scales: {
          x: { type: 'linear', min: 0, max: 210, display: false },
          y: { type: 'linear', min: -1, max: 2, display: false },
        },
        plugins: {
          legend: { display: false },
          tooltip: { enabled: false },
          title: { display: false },
        },
      },
      plugins: [decorPlugin],
    });
    return () => chart.destroy();
  }, []);

  return (
    <div style={{ position: 'fixed', left: 0, top: 0, width: 879, height: 441, background: '#fff' }}>
      <canvas ref={ref} width={879} height={441} style={{ width: '879px', height: '441px', display: 'block' }} />
    </div>
  );
}
